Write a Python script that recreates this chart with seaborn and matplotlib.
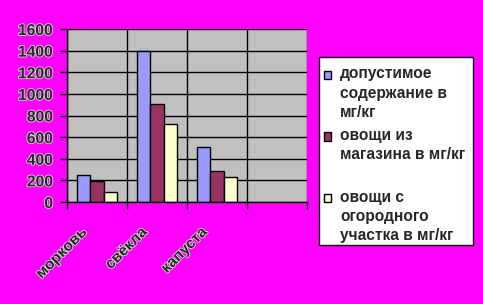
import matplotlib
matplotlib.use("Agg")
import matplotlib.pyplot as plt
import matplotlib.patheffects as pe
import matplotlib.transforms as mtransforms
from matplotlib.patches import Rectangle
from matplotlib.legend_handler import HandlerPatch
import seaborn as sns
import pandas as pd
import numpy as np

categories = ["морковь", "свёкла", "капуста", ""]
series_names = ["допустимое\nсодержание в\nмг/кг",
                "овощи из\nмагазина в мг/кг\n",
                "овощи с\nогородного\nучастка в мг/кг"]
allowed = [250, 1400, 510, np.nan]
store = [190, 905, 290, np.nan]
garden = [95, 720, 230, np.nan]
colors = ["#9999FF", "#993366", "#FFFFCC"]
yticks = [0, 200, 400, 600, 800, 1000, 1200, 1400, 1600]

rows = []
for name, vals in zip(series_names, [allowed, store, garden]):
    for c, v in zip(categories, vals):
        rows.append({"cat": c, "series": name, "value": v})
df = pd.DataFrame(rows)

sns.set_style("white")
plt.rcParams["font.family"] = ["Liberation Sans", "DejaVu Sans"]
plt.rcParams["font.weight"] = "bold"

fig = plt.figure(figsize=(4.83, 3.04), dpi=100)
fig.patch.set_facecolor("#FF00FF")
ax = fig.add_axes([67 / 483, 1 - 202 / 304, 240 / 483, 173 / 304])
ax.set_facecolor("#C0C0C0")

sns.barplot(data=df, x="cat", y="value", hue="series", order=categories,
            hue_order=series_names, palette=colors, width=0.667,
            edgecolor="black", linewidth=1, saturation=1, ax=ax, errorbar=None)

ax.set_xlim(-0.5, 3.5)
ax.set_ylim(0, 1600)
ax.set_yticks(yticks)
ax.set_xlabel("")
ax.set_ylabel("")
ax.yaxis.grid(True, color="black", linewidth=1)
ax.set_axisbelow(True)
ax.set_xticks([i - 0.5 for i in range(5)], minor=True)
ax.xaxis.grid(True, which="minor", color="black", linewidth=1)
for s in ["top", "right"]:
    ax.spines[s].set_visible(False)
for s in ["left", "bottom"]:
    ax.spines[s].set_color("black")
    ax.spines[s].set_linewidth(1)

halo = [pe.withStroke(linewidth=1.2, foreground="#D8D8D8")]
ax.tick_params(axis="y", length=5, width=1, color="black", pad=5,
               labelsize=11.3, left=True)
ax.tick_params(axis="x", which="major", length=0, pad=20, labelsize=11)
ax.tick_params(axis="x", which="minor", length=5, width=1, color="black", bottom=True)
for t in ax.get_yticklabels():
    t.set_fontweight("bold")
    t.set_path_effects(halo)
off = mtransforms.ScaledTranslation(-12 / 100, 0, fig.dpi_scale_trans)
for t in ax.get_xticklabels():
    t.set_rotation(45)
    t.set_ha("right")
    t.set_va("center")
    t.set_rotation_mode("anchor")
    t.set_fontweight("bold")
    t.set_path_effects(halo)
    t.set_transform(t.get_transform() + off)


class TopHandler(HandlerPatch):
    def __init__(self, shift, **kw):
        super().__init__(**kw)
        self.shift = shift

    def create_artists(self, legend, orig_handle, xdescent, ydescent,
                       width, height, fontsize, trans):
        p = Rectangle((-xdescent, -ydescent + self.shift), width, height,
                      facecolor=orig_handle.get_facecolor(),
                      edgecolor="black", linewidth=1)
        p.set_transform(trans)
        return [p]


# legend frame (white box with black border)
fig.patches.append(Rectangle((319 / 483, 1 - 245 / 304), 154 / 483, 188 / 304,
                             transform=fig.transFigure, facecolor="white",
                             edgecolor="black", linewidth=1, zorder=1))

handles = [Rectangle((0, 0), 1, 1, facecolor=c, edgecolor="black") for c in colors]
if ax.get_legend() is not None:
    ax.get_legend().remove()
shift = 13.5
leg = fig.legend(handles, series_names, loc="upper left",
                 bbox_to_anchor=(315 / 483, 1 - 57 / 304),
                 frameon=False,
                 prop={"size": 11.2, "weight": "bold"},
                 handlelength=0.45, handleheight=0.45, handletextpad=0.55,
                 borderpad=0.6, labelspacing=0.53, borderaxespad=0,
                 handler_map={Rectangle: TopHandler(shift)})
leg.set_zorder(5)
for t in leg.get_texts():
    t.set_linespacing(1.35)

fig.savefig("out.png", dpi=100, facecolor=fig.get_facecolor())
